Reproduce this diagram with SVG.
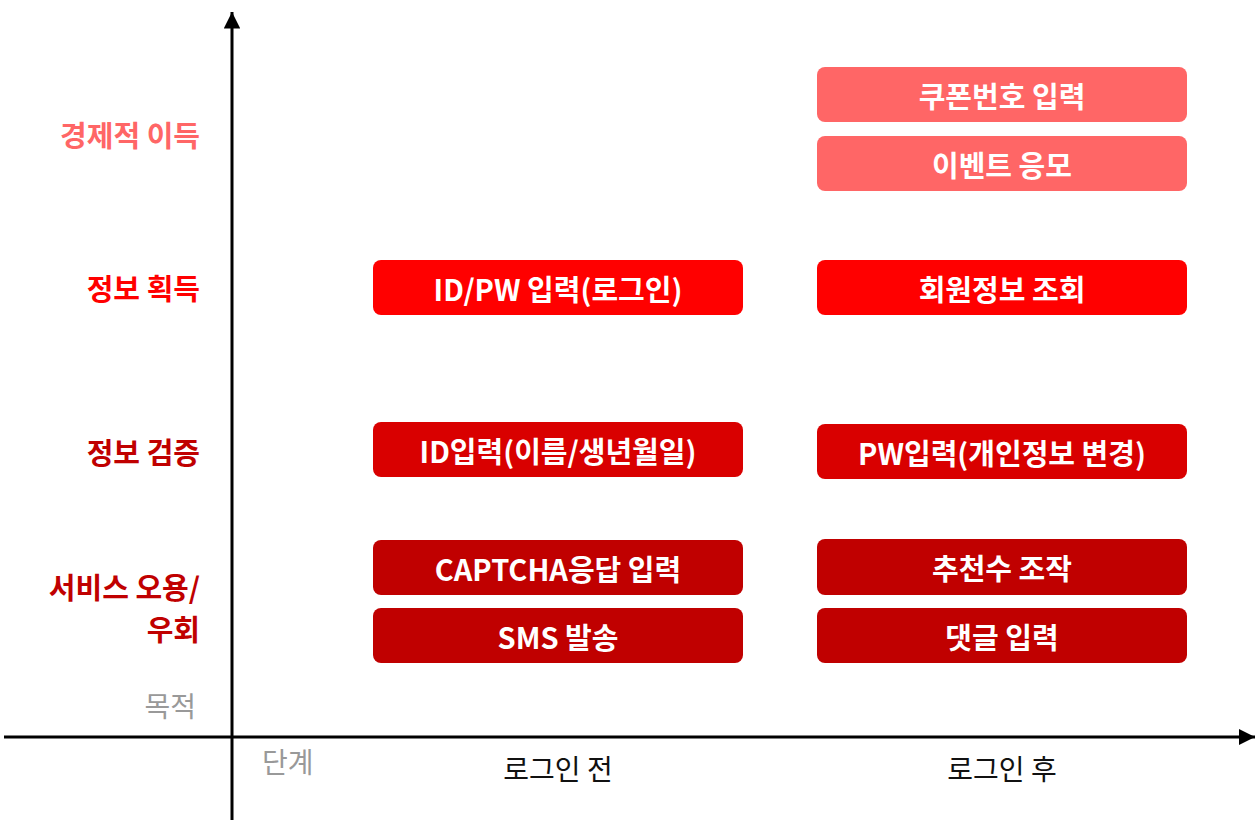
<svg xmlns="http://www.w3.org/2000/svg" width="1258" height="820" viewBox="0 0 1258 820">
<style>
.box text{font-family:"Noto Sans CJK KR","Noto Sans",sans-serif;font-weight:bold;font-size:29px;fill:#fff;text-anchor:middle;dominant-baseline:central}
.lbl{font-family:"Noto Sans CJK KR","Noto Sans",sans-serif;font-weight:bold;font-size:29px;text-anchor:end;dominant-baseline:central}
.ax{font-family:"Noto Sans CJK KR","Noto Sans",sans-serif;font-size:28px;dominant-baseline:central}
.c1{fill:#FF6666}.c2{fill:#FF0000}.c3{fill:#D90000}.c4{fill:#C00000}
</style>
<defs>
<marker id="ah" viewBox="0 0 10 10" refX="10" refY="5" markerWidth="5.5" markerHeight="5.5" markerUnits="strokeWidth" orient="auto"><path d="M0,0 L10,5 L0,10 z" fill="#000"/></marker>
</defs>
<rect width="1258" height="820" fill="#fff"/>
<g id="connectors">
<line x1="232" y1="820" x2="232" y2="12" stroke="#000" stroke-width="3" marker-end="url(#ah)"/>
<line x1="4" y1="737" x2="1255" y2="737" stroke="#000" stroke-width="3" marker-end="url(#ah)"/>
</g>
<g id="labels">
<text class="lbl c1" x="200" y="134">경제적 이득</text>
<text class="lbl c2" x="200" y="287">정보 획득</text>
<text class="lbl c4" x="200" y="451">정보 검증</text>
<text class="lbl c4" x="200" y="586">서비스 오용/</text>
<text class="lbl c4" x="200" y="628">우회</text>
<text class="ax" x="196" y="705" fill="#999" text-anchor="end">목적</text>
<text class="ax" x="262" y="761" fill="#999">단계</text>
<text class="ax" x="558" y="768" fill="#111" text-anchor="middle">로그인 전</text>
<text class="ax" x="1002" y="768" fill="#111" text-anchor="middle">로그인 후</text>
</g>
<g id="n1" class="box"><rect class="c1" x="817" y="67" width="370" height="55" rx="8"/><text x="1002" y="94.5">쿠폰번호 입력</text></g>
<g id="n2" class="box"><rect class="c1" x="817" y="136" width="370" height="55" rx="8"/><text x="1002" y="163.5">이벤트 응모</text></g>
<g id="n3" class="box"><rect class="c2" x="373" y="260" width="370" height="55" rx="8"/><text x="558" y="287.5">ID/PW 입력(로그인)</text></g>
<g id="n4" class="box"><rect class="c2" x="817" y="260" width="370" height="55" rx="8"/><text x="1002" y="287.5">회원정보 조회</text></g>
<g id="n5" class="box"><rect class="c3" x="373" y="422" width="370" height="55" rx="8"/><text x="558" y="449.5">ID입력(이름/생년월일)</text></g>
<g id="n6" class="box"><rect class="c3" x="817" y="424" width="370" height="55" rx="8"/><text x="1002" y="451.5">PW입력(개인정보 변경)</text></g>
<g id="n7" class="box"><rect class="c4" x="373" y="540" width="370" height="55" rx="8"/><text x="558" y="567.5">CAPTCHA응답 입력</text></g>
<g id="n8" class="box"><rect class="c4" x="817" y="539" width="370" height="56" rx="8"/><text x="1002" y="567">추천수 조작</text></g>
<g id="n9" class="box"><rect class="c4" x="373" y="608" width="370" height="55" rx="8"/><text x="558" y="635.5">SMS 발송</text></g>
<g id="n10" class="box"><rect class="c4" x="817" y="608" width="370" height="55" rx="8"/><text x="1002" y="635.5">댓글 입력</text></g>
</svg>
